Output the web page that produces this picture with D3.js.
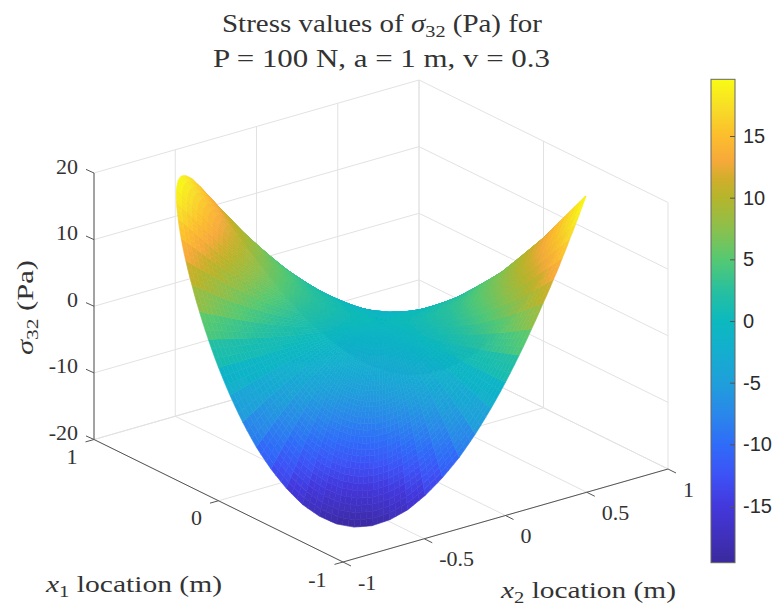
<!DOCTYPE html>
<html>
<head>
<meta charset="utf-8">
<script src="https://cdn.jsdelivr.net/npm/d3@7"></script>
<style>
  html,body{margin:0;padding:0;background:#fff;}
  svg{display:block;}
  text{font-family:"Liberation Serif",serif;fill:#333;}
  .cbar text{font-family:"Liberation Sans",sans-serif;fill:#2b2b2b;}
</style>
</head>
<body>
<svg id="chart" width="778" height="609"></svg>
<script>
const angleDeg = [0,5,10,15,20,25,30,35,40,45,50,55,60,65,70,75,80,85,90,95,100,105,110,115,120,125,130,135,140,145,150,155,160,165,170,175];
const ringRadii = [0.2,0.4,0.6,0.8,1];
const centerStress = 0;
// sigma32 per ring; the saddle repeats after half a turn so 36 columns are enough
const ring02 = [0,-0.2,-0.3,-0.4,-0.6,-0.7,-0.8,-0.8,-0.9,-0.9,-0.9,-0.8,-0.8,-0.7,-0.6,-0.4,-0.3,-0.2,0,0.2,0.3,0.4,0.6,0.7,0.8,0.8,0.9,0.9,0.9,0.8,0.8,0.7,0.6,0.4,0.3,0.2];
const ring04 = [0,-0.6,-1.2,-1.8,-2.3,-2.7,-3.0,-3.3,-3.5,-3.5,-3.5,-3.3,-3.0,-2.7,-2.3,-1.8,-1.2,-0.6,0,0.6,1.2,1.8,2.3,2.7,3.0,3.3,3.5,3.5,3.5,3.3,3.0,2.7,2.3,1.8,1.2,0.6];
const ring06 = [0,-1.3,-2.6,-3.8,-4.9,-5.8,-6.6,-7.1,-7.5,-7.6,-7.5,-7.1,-6.6,-5.8,-4.9,-3.8,-2.6,-1.3,0,1.3,2.6,3.8,4.9,5.8,6.6,7.1,7.5,7.6,7.5,7.1,6.6,5.8,4.9,3.8,2.6,1.3];
const ring08 = [0,-2.3,-4.5,-6.5,-8.4,-10.0,-11.3,-12.3,-12.9,-13.1,-12.9,-12.3,-11.3,-10.0,-8.4,-6.5,-4.5,-2.3,0,2.3,4.5,6.5,8.4,10.0,11.3,12.3,12.9,13.1,12.9,12.3,11.3,10.0,8.4,6.5,4.5,2.3];
const ring10 = [0,-3.4,-6.7,-9.8,-12.5,-14.9,-16.9,-18.3,-19.2,-19.5,-19.2,-18.3,-16.9,-14.9,-12.5,-9.8,-6.7,-3.4,0,3.4,6.7,9.8,12.5,14.9,16.9,18.3,19.2,19.5,19.2,18.3,16.9,14.9,12.5,9.8,6.7,3.4];
const stressByRing = [ring02,ring04,ring06,ring08,ring10];

const x1Ticks = [-1,0,1];
const x2Ticks = [-1,-0.5,0,0.5,1];
const x2TickLabels = ['-1','-0.5','0','0.5','1'];
const zTicks = [-20,-10,0,10,20];
const cbarTicks = [-15,-10,-5,0,5,10,15];
const cbarDomain = [-19.6,19.6];
const colorValues = [-19.6,-17.5,-15,-12.5,-10,-7.5,-5,-2.5,0,2.5,5,7.5,10,11.5,13,15,17,19.6];
const colorHex = ['#3a2a9c','#4030bc','#4338dc','#3d52f6','#2f6cf8','#2a88ea','#1f9fda','#14aecf','#0cb9bf','#28c09e','#55c972','#8cc04c','#b5b52c','#d0ae2c','#f7a93a','#fcbd2d','#f8d928','#f9fb15'];

const svg = d3.select('#chart');
const defs = svg.append('defs');
const color = d3.scaleLinear().domain(colorValues).range(colorHex).clamp(true);

// orthographic box: each data axis maps to a screen vector from the front floor corner
const frontX = 343, frontY = 562;
const x2ToX = d3.scaleLinear([-1,1],[0,325]);
const x2ToY = d3.scaleLinear([-1,1],[0,-93]);
const x1ToX = d3.scaleLinear([-1,1],[0,-249]);
const x1ToY = d3.scaleLinear([-1,1],[0,-122.5]);
const zToY = d3.scaleLinear([-20,20],[0,-266.5]);
const project = (a,b,z) => [frontX + x1ToX(a) + x2ToX(b), frontY + x1ToY(a) + x2ToY(b) + zToY(z)];

function seg(g, p, q, cls){
  g.append('line').attr('class',cls)
    .attr('x1',p[0]).attr('y1',p[1]).attr('x2',q[0]).attr('y2',q[1]);
}

// grid on floor and the two back walls
const grid = svg.append('g').attr('stroke','#e2e2e2').attr('stroke-width',1).attr('fill','none');
x2Ticks.forEach(b=>{
  seg(grid, project(1,b,-20), project(-1,b,-20));
  seg(grid, project(1,b,-20), project(1,b,20));
});
x1Ticks.forEach(a=>{
  seg(grid, project(a,-1,-20), project(a,1,-20));
  seg(grid, project(a,1,-20), project(a,1,20));
});
zTicks.forEach(z=>{
  seg(grid, project(1,-1,z), project(1,1,z));
  seg(grid, project(1,1,z), project(-1,1,z));
});

// axis lines and ticks
const axes = svg.append('g').attr('stroke','#555').attr('stroke-width',1).attr('fill','none');
seg(axes, project(1,-1,-20), project(1,-1,20));
seg(axes, project(1,-1,-20), project(-1,-1,-20));
seg(axes, project(-1,-1,-20), project(-1,1,-20));
zTicks.forEach(z=>{
  const p = project(1,-1,z);
  seg(axes, p, [p[0]-8,p[1]-3.6]);
});
x1Ticks.forEach(a=>{
  const p = project(a,-1,-20);
  seg(axes, p, [p[0]-8.5,p[1]+2.4]);
});
x2Ticks.forEach(b=>{
  const p = project(-1,b,-20);
  seg(axes, p, [p[0]+8,p[1]+4]);
});

// tick labels
const labels = svg.append('g').attr('font-size',22);
zTicks.forEach(z=>{
  const p = project(1,-1,z);
  labels.append('text').attr('x',p[0]-16).attr('y',p[1]+0.5).attr('text-anchor','end').text(z);
});
x1Ticks.forEach(a=>{
  const p = project(a,-1,-20);
  labels.append('text').attr('x',p[0]-16.5).attr('y',p[1]+24.5).attr('text-anchor','end').text(a);
});
x2Ticks.forEach((b,i)=>{
  const p = project(-1,b,-20);
  labels.append('text').attr('x',p[0]+15).attr('y',p[1]+27.5).text(x2TickLabels[i]);
});

// surface: smooth along the radius, partly flat across each sector so the spokes stay faint
const subSteps = 8, arcSteps = 3, sectorFlat = 0.6;
const viewDir = [-1.305,-1,19.04];
const radii = [0].concat(ringRadii);
const stressAt = (i,j) => i===0 ? centerStress : stressByRing[i-1][j % angleDeg.length];
const angleAt = j => (j<angleDeg.length ? angleDeg[j] : angleDeg[j-angleDeg.length]+180)*Math.PI/180;
const facets = [];
d3.range(angleDeg.length*2).forEach(j=>{
  const t0 = angleAt(j), dt = 5*Math.PI/180;
  d3.range(ringRadii.length).forEach(i=>{
    const rr = d3.interpolateNumber(radii[i],radii[i+1]);
    const z0 = d3.interpolateNumber(stressAt(i,j),stressAt(i+1,j));
    const z1 = d3.interpolateNumber(stressAt(i,j+1),stressAt(i+1,j+1));
    d3.range(subSteps).forEach(s=>{
      const u0 = s/subSteps, u1 = (s+1)/subSteps, um = (u0+u1)/2;
      const sectorMean = (z0(um)+z1(um))/2;
      d3.range(arcSteps).forEach(k=>{
        const v0 = k/arcSteps, v1 = (k+1)/arcSteps;
        const at = (u,v) => {
          const t = t0+v*dt;
          return [rr(u)*Math.cos(t), rr(u)*Math.sin(t), z0(u)+(z1(u)-z0(u))*v];
        };
        const corners = [at(u0,v0),at(u1,v0),at(u1,v1),at(u0,v1)];
        const local = d3.mean(corners,c=>c[2]);
        facets.push({
          corners,
          value: sectorFlat*sectorMean+(1-sectorFlat)*local,
          depth: d3.mean(corners,c=>c[0]*viewDir[0]+c[1]*viewDir[1]+c[2]*viewDir[2])
        });
      });
    });
  });
});
facets.sort((a,b)=>a.depth-b.depth);
// the reference is a soft photo, a small blur also hides the facet seams
defs.append('filter').attr('id','soft').attr('x','-2%').attr('y','-2%').attr('width','104%').attr('height','104%')
  .append('feGaussianBlur').attr('stdDeviation',0.7);
const facetPath = d3.line().x(c=>project(c[0],c[1],c[2])[0]).y(c=>project(c[0],c[1],c[2])[1]).curve(d3.curveLinearClosed);
svg.append('g').attr('filter','url(#soft)').selectAll('path').data(facets).enter().append('path')
  .attr('d',d=>facetPath(d.corners))
  .attr('fill',d=>color(d.value))
  .attr('stroke',d=>color(d.value))
  .attr('stroke-width',0.6)
  .attr('stroke-linejoin','round');

// colorbar
const cbarX = 711, cbarW = 24;
const cbarY = d3.scaleLinear().domain(cbarDomain).range([562.7,79.3]);
const grad = defs.append('linearGradient').attr('id','cbarGrad')
  .attr('x1',0).attr('y1',1).attr('x2',0).attr('y2',0);
grad.selectAll('stop').data(colorValues).enter().append('stop')
  .attr('offset',d=>(d-cbarDomain[0])/(cbarDomain[1]-cbarDomain[0]))
  .attr('stop-color',d=>color(d));
svg.append('rect').attr('x',cbarX).attr('y',cbarY(cbarDomain[1]))
  .attr('width',cbarW).attr('height',cbarY(cbarDomain[0])-cbarY(cbarDomain[1]))
  .attr('fill','url(#cbarGrad)').attr('stroke','#666').attr('stroke-width',1);
const cbarAxis = d3.axisRight(cbarY).tickValues(cbarTicks).tickSizeInner(-5).tickSizeOuter(0).tickPadding(8).tickFormat(d=>String(d));
const cbarG = svg.append('g').attr('class','cbar').attr('transform',`translate(${cbarX+cbarW},0)`).call(cbarAxis);
cbarG.select('.domain').remove();
cbarG.selectAll('line').attr('stroke','#555');
cbarG.selectAll('text').attr('font-size',20);

// math-style text: roman pieces, italic variable and a lowered subscript, stretched to the wide look of the original
function mathText(parent, x, y, size, length, parts, rotate){
  const t = parent.append('text').attr('font-size',size).attr('text-anchor','start');
  if(rotate) t.attr('transform',`translate(${x},${y}) rotate(-90)`);
  else t.attr('x',x).attr('y',y);
  if(length) t.attr('textLength',length).attr('lengthAdjust','spacingAndGlyphs');
  parts.forEach(p=>{
    const s = t.append('tspan').text(p.t);
    if(p.i) s.attr('font-style','italic');
    if(p.sub) s.attr('font-size',size*0.7).attr('dy',size*0.2);
    if(p.back) s.attr('dy',-size*0.2);
  });
  return t;
}
mathText(svg,222,32,25,320,[{t:'Stress values of '},{t:'σ',i:1},{t:'32',sub:1},{t:' (Pa) for',back:1}]);
mathText(svg,213,67,25,337,[{t:'P = 100 N, a = 1 m, v = 0.3'}]);
mathText(svg,46,592,24,176,[{t:'x',i:1},{t:'1',sub:1},{t:' location (m)',back:1}]);
mathText(svg,501,598,24,175,[{t:'x',i:1},{t:'2',sub:1},{t:' location (m)',back:1}]);
mathText(svg,33,355,24,95,[{t:'σ',i:1},{t:'32',sub:1},{t:' (Pa)',back:1}],true);
</script>
</body>
</html>
